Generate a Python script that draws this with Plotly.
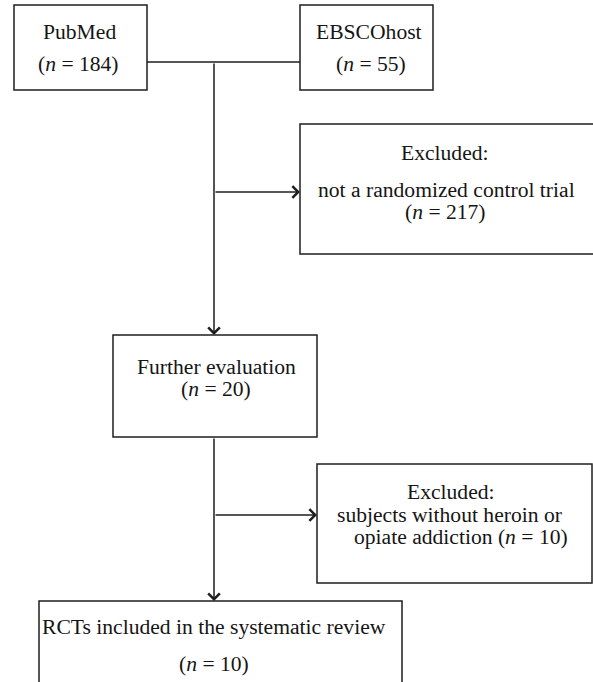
import plotly.graph_objects as go

# ---- data (content of the flow chart) ----
stage_names = ["PubMed", "EBSCOhost", "Excluded: RCT", "Further evaluation",
               "Excluded: subjects", "RCTs included"]
stage_counts = [184, 55, 217, 20, 10, 10]
stage_heads = [
    ["PubMed"],
    ["EBSCOhost"],
    ["Excluded:", "not a randomized control trial"],
    ["Further evaluation"],
    ["Excluded:", "subjects without heroin or"],
    ["RCTs included in the systematic review"],
]

# ---- layout geometry (pixel-like data coordinates) ----
W, H = 593, 682
box_x0 = [14, 300, 300, 113, 317, 39]
box_x1 = [147, 433, 596, 317, 592, 402]
box_y0 = [5, 5, 124, 335, 464, 601]
box_y1 = [90, 90, 254, 437, 583, 720]
# text line positions for each box: list of (x, y)
line_pos = [
    [(79, 32), (78, 64)],
    [(369, 32), (371, 64)],
    [(445, 153), (446, 190), (445, 212)],
    [(216, 367), (216, 389)],
    [(451, 492), (449, 515), (461, 537)],
    [(214, 627), (214, 664)],
]
LINE_COLOR = "#1e1e1e"
LW = 1.5
FONT = "Liberation Serif"
FS = 21.6

fig = go.Figure()
fig.add_trace(go.Scatter(x=[0, W], y=[0, H], mode="markers",
                         marker=dict(opacity=0), hoverinfo="skip",
                         showlegend=False))

shapes = []
for x0, x1, y0, y1 in zip(box_x0, box_x1, box_y0, box_y1):
    shapes.append(dict(type="rect", xref="x", yref="y", x0=x0, x1=x1, y0=y0, y1=y1,
                       line=dict(color=LINE_COLOR, width=LW), fillcolor="rgba(0,0,0,0)"))

trunk_x = 214
join_y = 62
# PubMed -> EBSCOhost connector
shapes.append(dict(type="line", xref="x", yref="y", x0=box_x1[0], x1=box_x0[1],
                   y0=join_y, y1=join_y, line=dict(color=LINE_COLOR, width=LW)))

annotations = []


def arrow(x0, y0, x1, y1):
    annotations.append(dict(x=x1, y=y1, ax=x0, ay=y0, xref="x", yref="y",
                            axref="x", ayref="y", showarrow=True, arrowhead=4,
                            arrowsize=1.5, arrowwidth=LW, arrowcolor=LINE_COLOR,
                            standoff=0, text=""))


arrow(trunk_x, join_y, trunk_x, box_y0[3])
arrow(trunk_x, 192, box_x0[2], 192)
arrow(trunk_x, box_y1[3], trunk_x, box_y0[5])
arrow(trunk_x, 515, box_x0[4], 515)

for i, heads in enumerate(stage_heads):
    lines = list(heads)
    ntxt = "(<i>n</i> = %d)" % stage_counts[i]
    if i == 4:
        lines.append("opiate addiction " + ntxt)
    else:
        lines.append(ntxt)
    for (tx, ty), t in zip(line_pos[i], lines):
        annotations.append(dict(x=tx, y=ty, xref="x", yref="y", text=t,
                                showarrow=False, xanchor="center", yanchor="middle",
                                font=dict(family=FONT, size=FS, color="#151515")))

fig.update_layout(
    width=W, height=H, margin=dict(l=0, r=0, t=0, b=0),
    paper_bgcolor="white", plot_bgcolor="white",
    xaxis=dict(range=[0, W], visible=False, fixedrange=True),
    yaxis=dict(range=[H, 0], visible=False, fixedrange=True),
    shapes=shapes, annotations=annotations, showlegend=False,
)
fig.write_html("out.html",
               config={"displayModeBar": False, "staticPlot": True},
               post_script="document.body.style.margin='0';"
                           "document.body.style.overflow='hidden';")
